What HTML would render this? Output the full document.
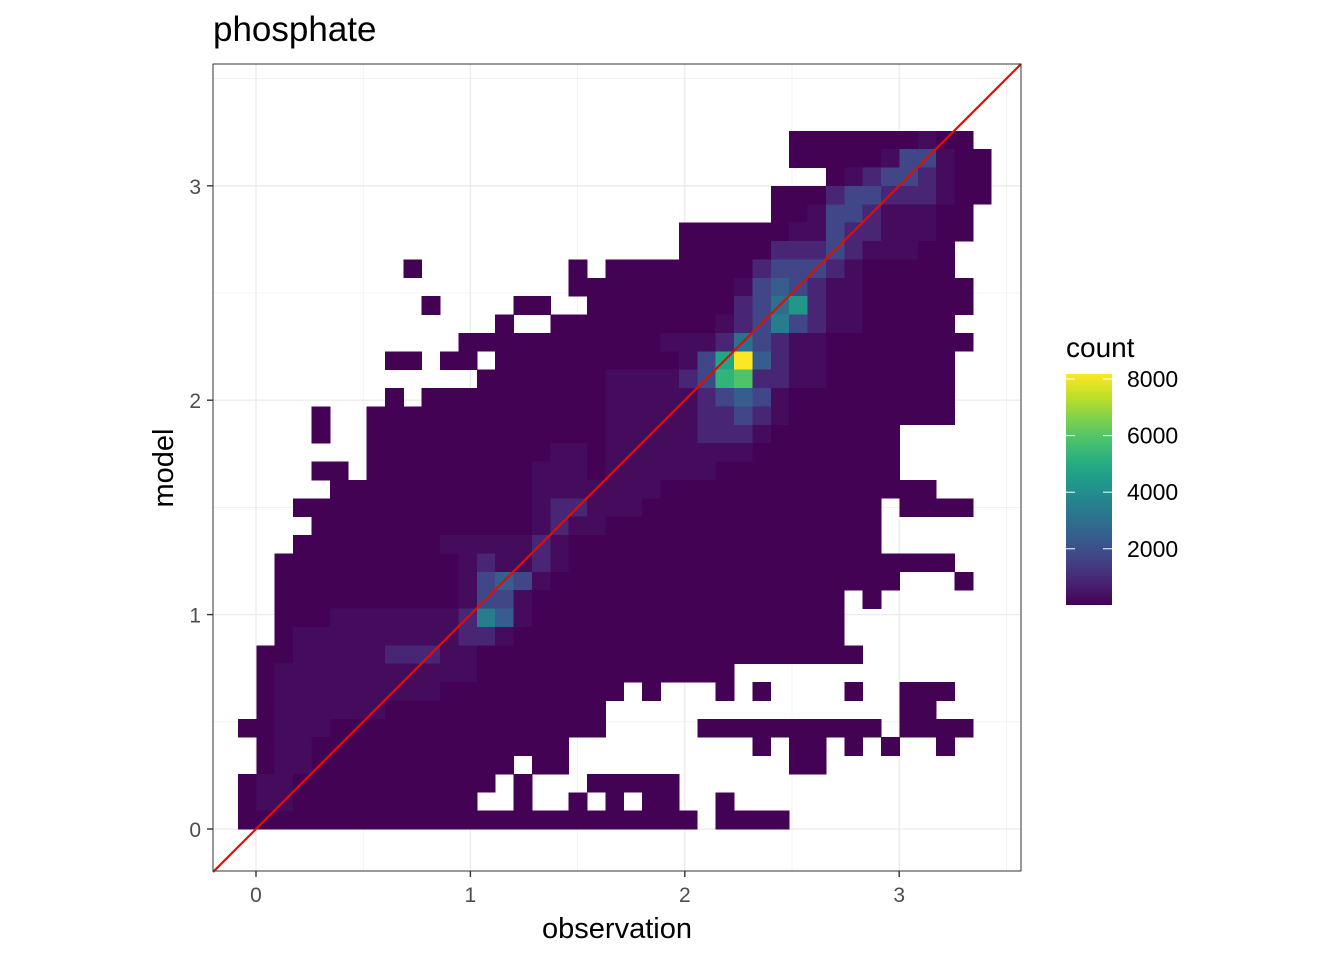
<!DOCTYPE html>
<html><head><meta charset="utf-8"><style>
html,body{margin:0;padding:0;background:#fff;}
svg{display:block;font-family:"Liberation Sans",Arial,sans-serif;}
</style></head><body>
<svg id="chart" width="1344" height="960" viewBox="0 0 1344 960" xmlns="http://www.w3.org/2000/svg">
<rect x="0" y="0" width="1344" height="960" fill="#fff"/>
<text x="213" y="41" font-size="35" fill="#000">phosphate</text>
<g id="grid"></g>
<g id="tiles" shape-rendering="crispEdges"></g>
<g id="overlay"></g>
<rect x="213" y="64" width="808" height="807" fill="none" stroke="#333" stroke-width="1"/>
<g id="axes"></g>
<text x="617" y="938" font-size="29" text-anchor="middle" fill="#000">observation</text>
<text transform="translate(173,468) rotate(-90)" font-size="29" text-anchor="middle" fill="#000">model</text>
<g id="legend"></g>
</svg>
<script>
const D = n => '.'.repeat(n);
const Z = n => '0'.repeat(n);
// bin levels per row, top row (highest model bin) first; '.' = empty
const rowsTopDown = [
 D(30)+"0000000100"+D(1),
 D(30)+"00000133100",
 D(32)+"012332100",
 D(29)+"000233222100",
 D(29)+"00133211100"+D(1),
 D(24)+Z(6)+"1132211100"+D(1),
 D(24)+Z(5)+"2223211100"+D(2),
 D(9)+"0"+D(8)+"0"+D(1)+Z(8)+"233321"+Z(5)+D(2),
 D(18)+Z(9)+"1343211"+Z(6)+D(1),
 D(10)+"0"+D(4)+"00"+D(2)+Z(8)+"2357211"+Z(6)+D(1),
 D(14)+"0"+D(2)+Z(9)+"12363211"+Z(5)+D(2),
 D(12)+Z(11)+"111253211"+Z(8)+D(1),
 D(8)+"00"+D(1)+"00"+D(1)+Z(10)+"138b4211"+Z(7)+D(2),
 D(13)+Z(7)+"1111"+"239a2211"+Z(7)+D(2),
 D(8)+"0"+D(1)+Z(10)+"11111"+"23431"+Z(9)+D(2),
 D(4)+"0"+D(2)+Z(13)+"11111"+"22321"+Z(9)+D(2),
 D(4)+"0"+D(2)+Z(13)+"111112221"+Z(7)+D(5),
 D(7)+Z(10)+"11"+"0"+"11111111"+Z(8)+D(5),
 D(4)+"00"+D(1)+Z(9)+"111"+"0"+"111111"+Z(10)+D(5),
 D(5)+Z(11)+"1111111"+Z(15)+D(3),
 D(3)+Z(13)+"122111"+Z(13)+D(1)+"0000"+D(1),
 D(4)+Z(12)+"1211"+Z(15)+D(6),
 D(3)+Z(8)+"1111121"+Z(17)+D(6),
 D(2)+Z(10)+"121121"+Z(21)+D(2),
 D(2)+Z(10)+"13431"+Z(19)+D(3)+"0"+D(1),
 D(2)+Z(10)+"1331"+Z(17)+D(1)+"0"+D(6),
 D(2)+"000"+"1111111"+"2641"+Z(17)+D(8),
 D(2)+"0"+"111111111"+"221"+Z(18)+D(8),
 D(1)+"00"+"11111"+"222"+"11"+Z(21)+D(7),
 D(1)+"0"+"11111111111"+Z(14)+D(14),
 D(1)+"0"+"111111111"+Z(10)+D(1)+"0"+D(3)+"0"+D(1)+"0"+D(4)+"0"+D(2)+"000"+D(2),
 D(1)+"0"+"111111"+Z(12)+D(16)+"00"+D(3),
 "00111"+Z(15)+D(5)+Z(10)+D(1)+"0000"+D(1),
 D(1)+"011"+Z(14)+D(10)+"0"+D(1)+"00"+D(1)+"0"+D(1)+"0"+D(2)+"0"+D(2),
 D(1)+"011"+Z(11)+D(1)+"00"+D(12)+"00"+D(9),
 "011"+Z(11)+D(1)+"0"+D(3)+Z(5)+D(17),
 "011"+Z(10)+D(2)+"0"+D(2)+"0"+D(1)+"0"+D(1)+"00"+D(2)+"0"+D(14),
 Z(25)+D(1)+Z(4)+D(11)
];
const levelKeys = ['0','1','2','3','4','5','6','7','8','9','a','b'];
const levelCounts = [40,260,850,1700,2400,3000,3400,4300,4800,5300,5900,8150];
const xTicks = [0,1,2,3];
const yTicks = [0,1,2,3];
const legendTicks = [2000,4000,6000,8000];
const binOriginX = -0.084, binOriginY = 0, binWidth = 0.0857;
const countMin = 12, countMax = 8177;

const NS = 'http://www.w3.org/2000/svg';
function mk(tag, attrs, parent){const e=document.createElementNS(NS,tag);for(const k in attrs)e.setAttribute(k,attrs[k]);parent.appendChild(e);return e;}
const sx = v => 256 + v*214.4;
const sy = v => 829 - v*214.4;
const vir = ['#440154','#482475','#414487','#355f8d','#2a788e','#21918c','#22a884','#44bf70','#7ad151','#bddf26','#fde725'];
function hex(h){return [parseInt(h.slice(1,3),16),parseInt(h.slice(3,5),16),parseInt(h.slice(5,7),16)];}
function viridis(t){t=Math.max(0,Math.min(1,t));const p=t*10,i=Math.min(9,Math.floor(p)),f=p-i;const a=hex(vir[i]),b=hex(vir[i+1]);return 'rgb('+a.map((c,k)=>Math.round(c+(b[k]-c)*f)).join(',')+')';}
const colorOf = c => viridis((c-countMin)/(countMax-countMin));

const grid=document.getElementById('grid');
[0.5,1.5,2.5,3.5].forEach(v=>{
  let l=mk('line',{x1:sx(v),x2:sx(v),y1:64,y2:871,stroke:'#ebebeb','stroke-width':0.6},grid);
  
  
  let m=mk('line',{x1:213,x2:1021,y1:sy(v),y2:sy(v),stroke:'#ebebeb','stroke-width':0.6},grid);
  
  
});
xTicks.forEach(v=>{
  let l=mk('line',{x1:sx(v),x2:sx(v),y1:64,y2:871,stroke:'#ebebeb','stroke-width':1.3},grid);
  
  
});
yTicks.forEach(v=>{
  let l=mk('line',{x1:213,x2:1021,y1:sy(v),y2:sy(v),stroke:'#ebebeb','stroke-width':1.3},grid);
  
  
});

const tiles=document.getElementById('tiles');
const nRows=rowsTopDown.length;
rowsTopDown.forEach((row,ri)=>{
  const r=nRows-1-ri;
  for(let c=0;c<row.length;c++){
    const ch=row[c]; if(ch==='.') continue;
    const count=levelCounts[levelKeys.indexOf(ch)];
    const x0=sx(binOriginX+c*binWidth), x1=sx(binOriginX+(c+1)*binWidth);
    const y1=sy(binOriginY+r*binWidth), y0=sy(binOriginY+(r+1)*binWidth);
    const t=mk('rect',{x:x0.toFixed(2),y:y0.toFixed(2),width:(x1-x0+0.4).toFixed(2),height:(y1-y0+0.4).toFixed(2),fill:colorOf(count)},tiles);
    
    
  }
});

const ov=document.getElementById('overlay');
const idl=mk('line',{x1:213,y1:sy((213-256)/214.4),x2:1021,y2:sy((1021-256)/214.4),stroke:'#ff0000','stroke-width':2.2},ov);



const ax=document.getElementById('axes');
xTicks.forEach(v=>{
  let t=mk('line',{x1:sx(v),x2:sx(v),y1:871,y2:877,stroke:'#333','stroke-width':1.4},ax);
  
  
  let l=mk('text',{x:sx(v),y:902,'font-size':21,'text-anchor':'middle',fill:'#4d4d4d'},ax);
  l.textContent=String(v);
  
  
});
yTicks.forEach(v=>{
  let t=mk('line',{x1:207,x2:213,y1:sy(v),y2:sy(v),stroke:'#333','stroke-width':1.4},ax);
  
  
  let l=mk('text',{x:201,y:sy(v)+8,'font-size':21,'text-anchor':'end',fill:'#4d4d4d'},ax);
  l.textContent=String(v);
  
  
});

const lg=document.getElementById('legend');
const lt=mk('text',{x:1066,y:357,'font-size':28,fill:'#000'},lg);
lt.textContent='count';


const defs=mk('defs',{},lg);
const grad=mk('linearGradient',{id:'vg',x1:0,y1:1,x2:0,y2:0},defs);
vir.forEach((c,i)=>mk('stop',{offset:(i/10),'stop-color':c},grad));
const barTop=374, barBot=605;
const ly = v => barBot - (v-countMin)/(countMax-countMin)*(barBot-barTop);
const bar=mk('rect',{x:1066,y:barTop,width:46,height:barBot-barTop,fill:'url(#vg)'},lg);


legendTicks.forEach(v=>{
  const y=ly(v);
  let a=mk('line',{x1:1066,x2:1075,y1:y,y2:y,stroke:'#fff','stroke-width':1},lg);
  
  
  let b=mk('line',{x1:1103,x2:1112,y1:y,y2:y,stroke:'#fff','stroke-width':1},lg);
  
  
  let l=mk('text',{x:1127,y:y+8,'font-size':23,fill:'#000'},lg);
  l.textContent=String(v);
  
  
});
</script>
</body></html>
